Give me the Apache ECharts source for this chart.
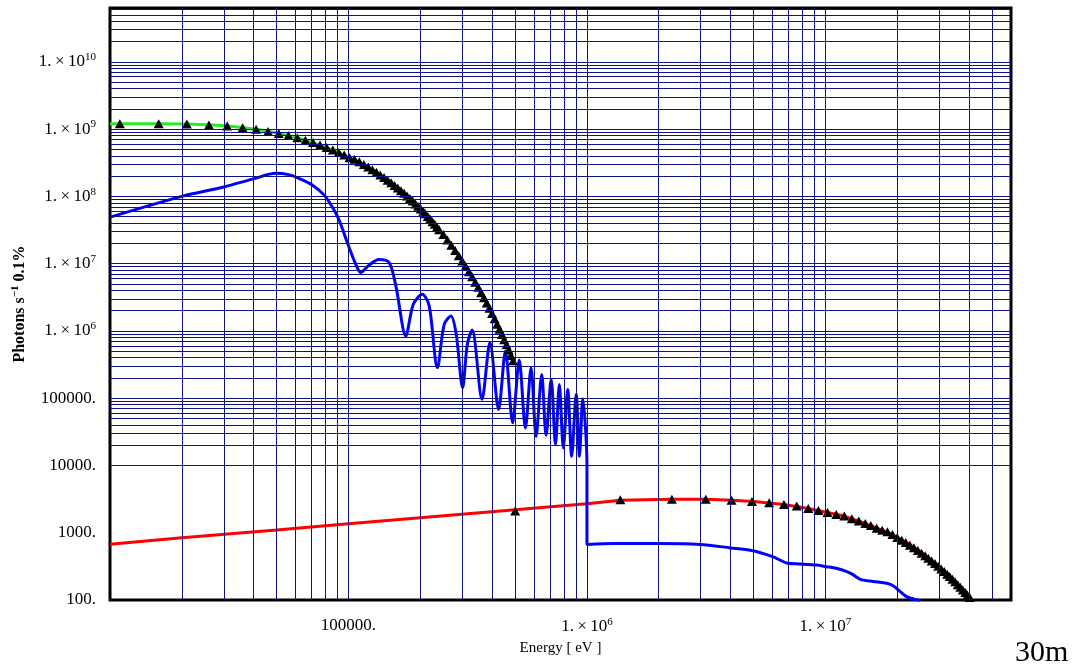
<!DOCTYPE html>
<html>
<head>
<meta charset="utf-8">
<script src="https://cdn.jsdelivr.net/npm/echarts@6/dist/echarts.min.js"></script>
<style>
  html, body { margin: 0; padding: 0; background: #fff; }
  #chart { width: 1078px; height: 666px; }
</style>
</head>
<body>
<div id="chart"></div>
<script>
// tick labels
const xTickValues = [1e5, 1e6, 1e7];
const yTickValues = [1e2, 1e3, 1e4, 1e5, 1e6, 1e7, 1e8, 1e9, 1e10];

// grid lines: multipliers in each decade
const gridSteps = [1, 2, 3, 4, 5, 6, 7, 8, 9];
const xGridDecades = [1e4, 1e5, 1e6, 1e7];
const yGridDecades = [1e4, 1e5, 1e6, 1e7, 1e8, 1e9, 1e10];

// green curve (low energy part)
const greenE = [1e4, 1.6e4, 2.1e4, 2.6e4, 3.1e4, 3.6e4, 4.1e4, 5.1e4, 6.1e4, 7.1e4, 8.1e4, 9.1e4,
  1.01e5, 1.21e5, 1.51e5, 2.01e5, 2.5e5, 3.0e5, 3.5e5, 4.0e5, 4.5e5, 4.9e5];
const greenF = [1.2e9, 1.2e9, 1.19e9, 1.15e9, 1.11e9, 1.05e9, 9.9e8, 8.6e8, 7.4e8, 6.3e8, 5.3e8, 4.5e8,
  3.76e8, 2.72e8, 1.59e8, 6.5e7, 2.7e7, 1.09e7, 4.45e6, 1.81e6, 7.4e5, 3.6e5];

// black triangles on the green curve
const triHighE = [1.1e4, 1.6e4, 2.1e4, 2.6e4, 3.1e4, 3.6e4, 4.1e4, 4.6e4, 5.1e4, 5.6e4, 6.1e4, 6.6e4,
  7.1e4, 7.6e4, 8.1e4, 8.6e4, 9.1e4, 9.6e4, 1.01e5, 1.06e5, 1.11e5, 1.16e5, 1.21e5, 1.26e5,
  1.31e5, 1.36e5, 1.41e5, 1.46e5, 1.51e5, 1.56e5, 1.61e5, 1.66e5, 1.71e5, 1.76e5, 1.81e5, 1.86e5,
  1.91e5, 1.96e5, 2.01e5, 2.06e5, 2.1e5, 2.15e5, 2.2e5, 2.25e5, 2.3e5, 2.35e5, 2.4e5, 2.5e5, 2.6e5, 2.7e5, 2.8e5, 2.9e5,
  3.0e5, 3.1e5, 3.2e5, 3.3e5, 3.4e5, 3.5e5, 3.6e5, 3.7e5, 3.8e5, 3.9e5, 4.0e5, 4.1e5,
  4.2e5, 4.3e5, 4.4e5, 4.5e5, 4.6e5, 4.7e5, 4.8e5, 4.9e5];
const triHighF = [1.2e9, 1.2e9, 1.19e9, 1.15e9, 1.11e9, 1.05e9, 9.9e8, 9.2e8, 8.6e8, 8.0e8, 7.4e8, 6.8e8,
  6.3e8, 5.8e8, 5.3e8, 4.9e8, 4.5e8, 4.1e8, 3.76e8, 3.56e8, 3.26e8, 2.98e8, 2.72e8, 2.49e8,
  2.28e8, 2.08e8, 1.9e8, 1.74e8, 1.59e8, 1.45e8, 1.33e8, 1.21e8, 1.11e8, 1.01e8, 9.3e7, 8.5e7,
  7.7e7, 7.1e7, 6.5e7, 6.0e7, 5.5e7, 5.0e7, 4.6e7, 4.2e7, 3.85e7, 3.5e7, 3.2e7, 2.7e7, 2.24e7, 1.88e7, 1.57e7, 1.31e7,
  1.09e7, 9.1e6, 7.6e6, 6.4e6, 5.3e6, 4.45e6, 3.7e6, 3.1e6, 2.6e6, 2.17e6, 1.81e6, 1.51e6,
  1.26e6, 1.06e6, 8.8e5, 7.4e5, 6.2e5, 5.2e5, 4.3e5, 3.6e5];

// red curve
const redE = [1e4, 2e4, 5e4, 1e5, 2e5, 5e5, 1e6, 1.38e6, 2.27e6, 3.15e6, 4.04e6, 5.0e6, 6.7e6, 8.47e6,
  1.02e7, 1.2e7, 1.47e7, 1.73e7, 2.0e7, 2.27e7, 2.66e7, 3.0e7, 3.44e7, 4.0e7, 4.15e7];
const redF = [676, 839, 1100, 1360, 1670, 2190, 2700, 3050, 3150, 3150, 3050, 2920, 2630, 2290,
  2000, 1770, 1370, 1090, 850, 660, 441, 296, 199, 112, 95];

// black triangles on the red curve
const triLowE = [5.0e5, 1.38e6, 2.27e6, 3.15e6, 4.04e6, 4.92e6, 5.81e6, 6.7e6, 7.58e6, 8.47e6, 9.35e6,
  1.02e7, 1.11e7, 1.2e7, 1.29e7, 1.38e7, 1.47e7, 1.55e7, 1.64e7, 1.73e7, 1.82e7, 1.91e7, 2.0e7,
  2.09e7, 2.17e7, 2.26e7, 2.35e7, 2.44e7, 2.53e7, 2.62e7, 2.7e7, 2.79e7, 2.88e7, 2.97e7, 3.06e7,
  3.15e7, 3.24e7, 3.32e7, 3.41e7, 3.5e7, 3.59e7, 3.68e7, 3.77e7, 3.86e7, 3.94e7, 4.03e7];
const triLowF = [2100, 3090, 3150, 3150, 3050, 2920, 2790, 2630, 2490, 2290, 2140,
  2000, 1870, 1770, 1610, 1490, 1370, 1280, 1170, 1090, 1030, 940, 850,
  774, 714, 653, 596, 544, 497, 453, 418, 381, 348, 318, 290,
  265, 242, 223, 204, 186, 169, 155, 141, 129, 119, 109];

// blue curve
const blueE = [1e4, 2e4, 3e4, 4e4, 4.95e4, 5.6e4, 6.2e4, 7.0e4, 7.9e4, 8.5e4, 9.1e4,
  1.0e5, 1.07e5, 1.125e5, 1.22e5, 1.34e5, 1.48e5, 1.58e5, 1.74e5, 1.87e5, 2.04e5, 2.18e5,
  2.36e5, 2.52e5, 2.69e5, 2.83e5, 3.01e5, 3.15e5, 3.3e5, 3.63e5, 3.92e5, 4.26e5, 4.55e5,
  4.88e5, 5.2e5, 5.52e5, 5.83e5, 6.12e5, 6.46e5, 6.74e5, 7.08e5, 7.38e5, 7.66e5, 7.96e5,
  8.3e5, 8.63e5, 9.01e5, 9.3e5, 9.6e5, 1.0e6, 1.0e6,
  1.3e6, 2.0e6, 2.97e6, 4.0e6, 4.9e6, 6.0e6, 6.95e6, 7.8e6, 9.2e6, 1.01e7, 1.11e7, 1.23e7,
  1.31e7, 1.4e7, 1.585e7, 1.81e7, 1.93e7, 2.06e7, 2.19e7, 2.42e7, 2.5e7];
const blueF = [4.9e7, 1.0e8, 1.38e8, 1.82e8, 2.2e8, 2.1e8, 1.85e8, 1.5e8, 1.05e8, 7.2e7, 4.6e7,
  1.84e7, 1.0e7, 7.4e6, 9.5e6, 1.15e7, 1.04e7, 4.67e6, 8.4e5, 2.49e6, 3.5e6, 2.35e6,
  2.84e5, 1.25e6, 1.67e6, 8.9e5, 1.43e5, 6.3e5, 1.03e6, 9.6e4, 6.7e5, 6.8e4, 5.0e5,
  4.3e4, 3.68e5, 3.6e4, 2.84e5, 2.7e4, 2.25e5, 2.8e4, 1.9e5, 2.04e4, 1.6e5, 1.82e4,
  1.35e5, 1.37e4, 1.14e5, 1.37e4, 9.8e4, 1.0e4, 670,
  690, 690, 670, 595, 543, 441, 352, 344, 330, 313, 296, 264,
  236, 203, 189, 177, 162, 133, 112, 100, 98];

const serif = '"Liberation Serif", "DejaVu Serif", serif';
const zip = (a, b) => a.map((v, i) => [v, b[i]]);

const xGrid = [];
xGridDecades.forEach((d) => gridSteps.forEach((k) => { if (k * d > 1e4 && k * d < 6e7) xGrid.push(k * d); }));
const yGrid = [];
yGridDecades.forEach((d) => gridSteps.forEach((k) => { if (k * d < 6.3e10) yGrid.push(k * d); }));

const powLabel = (v) => {
  const e = Math.round(Math.log10(v));
  if (Math.abs(Math.log10(v) - e) > 1e-6) return '';
  if (e >= 6) return '{m|1.\u2009×\u200910}{s|' + e + '}';
  return '{m|' + Math.pow(10, e) + '.}';
};
const isTick = (list, v) => list.some((t) => Math.abs(t - v) / t < 1e-6);

const richStyle = {
  m: { fontFamily: serif, fontSize: 17, color: '#000' },
  s: { fontFamily: serif, fontSize: 11, color: '#000', padding: [0, 0, 9, 0] },
};

const chart = echarts.init(document.getElementById('chart'));

const option = {
  animation: false,
  backgroundColor: '#fff',
  grid: {
    left: 110, right: 67, top: 8, bottom: 66,
    show: true, borderColor: '#000', borderWidth: 3, backgroundColor: 'transparent',
  },
  xAxis: {
    type: 'log', logBase: 10, min: 1e4, max: 6e7,
    name: 'Energy [ eV ]', nameLocation: 'middle', nameGap: 39,
    nameTextStyle: { fontFamily: serif, fontSize: 15, color: '#000' },
    axisLine: { show: false },
    axisTick: { show: false },
    splitLine: { show: false },
    axisLabel: {
      margin: 17,
      customValues: xTickValues,
      formatter: (v) => (isTick(xTickValues, v) ? powLabel(v) : ''),
      rich: richStyle,
    },
  },
  yAxis: {
    type: 'log', logBase: 10, min: 100, max: 6.3e10,
    name: 'Photons s{s|−1} 0.1%', nameLocation: 'middle', nameGap: 76, nameRotate: 90,
    nameTextStyle: {
      fontFamily: serif, fontSize: 16, fontWeight: 'bold', color: '#000',
      rich: { s: { fontFamily: serif, fontSize: 11, fontWeight: 'bold', color: '#000', padding: [0, 0, 9, 0] } },
    },
    axisLine: { show: false },
    axisTick: { show: false },
    splitLine: { show: false },
    axisLabel: {
      margin: 14,
      customValues: yTickValues,
      formatter: (v) => (isTick(yTickValues, v) ? powLabel(v) : ''),
      rich: richStyle,
    },
  },
  graphic: [
    { type: 'text', left: 1015, top: 638, style: { text: '30m', font: '30px ' + serif, fill: '#000' } },
  ],
  series: [
    {
      name: 'grid', type: 'line', data: [], silent: true, z: 1,
      markLine: {
        silent: true, symbol: ['none', 'none'], animation: false,
        label: { show: false },
        lineStyle: { color: '#10108a', width: 1, type: 'solid', opacity: 1 },
        emphasis: { disabled: true },
        data: xGrid.map((v) => ({ xAxis: v })).concat(yGrid.map((v) => ({ yAxis: v }))),
      },
    },
    {
      name: 'red', type: 'line', data: zip(redE, redF), showSymbol: false, z: 3,
      lineStyle: { color: '#ff0000', width: 3 },
    },
    {
      name: 'blue', type: 'line', data: zip(blueE, blueF), showSymbol: false, z: 3, smooth: 0.3,
      lineStyle: { color: '#0000ff', width: 3 },
    },
    {
      name: 'green', type: 'line', data: zip(greenE, greenF), showSymbol: false, z: 3, smooth: 0.3,
      lineStyle: { color: '#22ee22', width: 3 },
    },
    {
      name: 'triHigh', type: 'scatter', data: zip(triHighE, triHighF), z: 4,
      symbol: 'triangle', symbolSize: [10, 9], itemStyle: { color: '#000', opacity: 1 },
    },
    {
      name: 'triLow', type: 'scatter', data: zip(triLowE, triLowF), z: 4,
      symbol: 'triangle', symbolSize: [10, 9], itemStyle: { color: '#000', opacity: 1 },
    },
  ],
};

chart.setOption(option);
</script>
</body>
</html>
